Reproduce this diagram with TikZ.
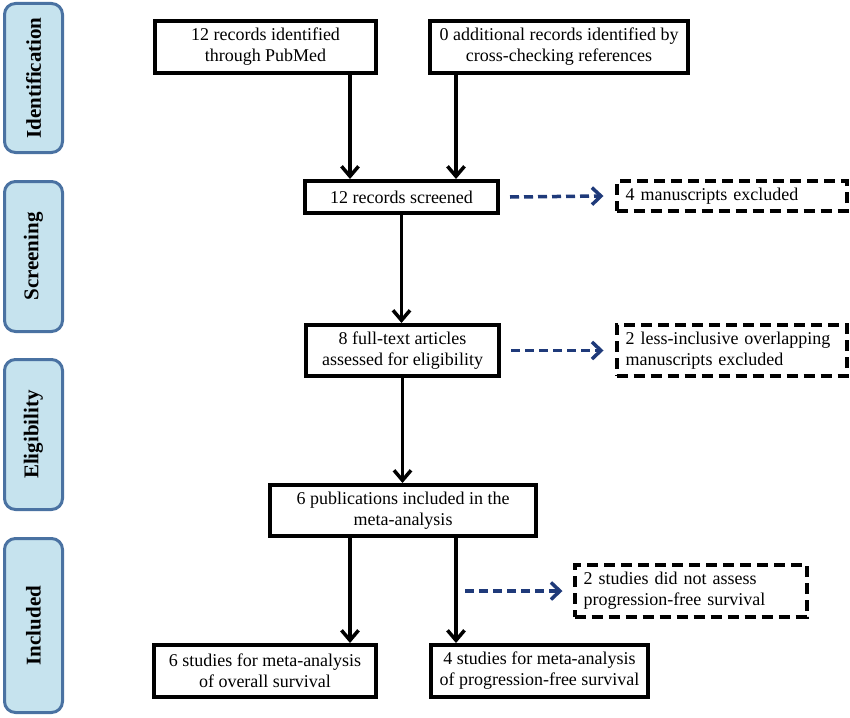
\documentclass[tikz,border=0pt]{standalone}
\usepackage{fontspec}
\setmainfont{Liberation Serif}
\usetikzlibrary{arrows.meta}
\definecolor{navy}{RGB}{31,58,122}
\definecolor{stagefill}{RGB}{198,227,238}
\definecolor{stageline}{RGB}{74,114,162}

\begin{document}
\begin{tikzpicture}[x=1pt,y=-1pt,
  box/.style={draw,line width=4pt,align=center,inner sep=0pt,font=\fontsize{18}{21}\selectfont},
  dbox/.style={box,dash pattern=on 11pt off 6pt,align=left,inner xsep=9pt},
  stage/.style={draw=stageline,fill=stagefill,line width=3pt,rounded corners=11pt,rotate=90,
    minimum height=58,font=\fontsize{21}{24}\selectfont\bfseries},
  arr/.style={line width=3.5pt,-{Straight Barb[length=10pt,width=17pt]}},
  darr/.style={navy,line width=3.5pt,dash pattern=on 9pt off 5pt,-{Straight Barb[length=9pt,width=17pt]}}]
\useasboundingbox (0,0) rectangle (850,717);
\node[stage,minimum width=149] (ident) at (33.5,78) {Identification};
\node[stage,minimum width=150] (screening) at (33.5,256.5) {Screening};
\node[stage,minimum width=150] (elig) at (33.5,434.5) {Eligibility};
\node[stage,minimum width=174] (incl) at (33.5,625.5) {Included};

\node[box,minimum width=221,minimum height=52] (pubmed) at (265.5,47) {12 records identified\\through PubMed};
\node[box,minimum width=258,minimum height=52] (crossref) at (559,47) {0 additional records identified by\\cross-checking references};
\node[box,minimum width=193,minimum height=32] (screened) at (401.5,197) {12 records screened};
\node[dbox,minimum height=30,text width=212] (excl) at (731.5,196) {4 manuscripts excluded};
\node[box,minimum width=193,minimum height=51] (fulltext) at (402.5,350.5) {8 full-text articles\\assessed for eligibility};
\node[dbox,minimum height=51,text width=212] (overlap) at (731.5,350.5) {2 less-inclusive overlapping\\manuscripts excluded};
\node[box,minimum width=266,minimum height=51] (pubs) at (403,510.5) {6 publications included in the\\meta-analysis};
\node[dbox,minimum height=52,text width=214] (nopfs) at (690.5,591) {2 studies did not assess\\progression-free survival};
\node[box,minimum width=222,minimum height=52] (os) at (265,671) {6 studies for meta-analysis\\of overall survival};
\node[box,minimum width=217,minimum height=52] (pfs) at (539.5,671) {4 studies for meta-analysis\\of progression-free survival};

\coordinate (la) at (350,0);
\coordinate (lb) at (456,0);
\coordinate (dstart) at (465,591);
\draw[arr] (pubmed.south -| la) -- (screened.north -| la);
\draw[arr] (crossref.south -| lb) -- (screened.north -| lb);
\draw[arr] (screened.south) -- (screened.south |- fulltext.north);
\draw[arr] (fulltext.south) -- (fulltext.south |- pubs.north);
\draw[arr] (pubs.south -| la) -- (os.north -| la);
\draw[arr] (pubs.south -| lb) -- (pfs.north -| lb);
\draw[darr] ([xshift=10]screened.east) -- ([xshift=-11]excl.west);
\draw[darr] ([xshift=10]fulltext.east) -- ([xshift=-11]overlap.west);
\draw[darr] (dstart) -- ([xshift=-10]nopfs.west);
\end{tikzpicture}
\end{document}
